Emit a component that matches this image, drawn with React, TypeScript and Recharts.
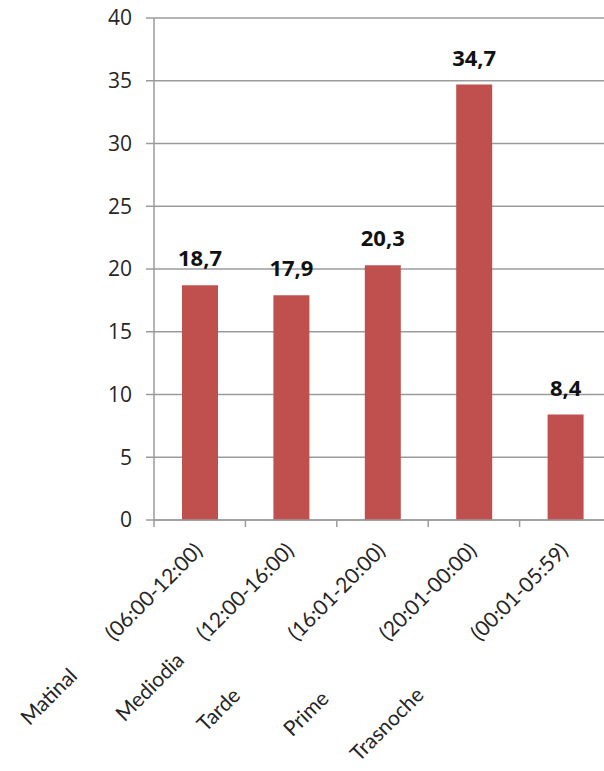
import React from 'react';
import { BarChart, Bar, XAxis, YAxis, CartesianGrid, LabelList } from 'recharts';

const names = ['Matinal', 'Mediodia', 'Tarde', 'Prime', 'Trasnoche'];
const timeRanges = ['(06:00-12:00)', '(12:00-16:00)', '(16:01-20:00)', '(20:01-00:00)', '(00:01-05:59)'];
const shares = [18.7, 17.9, 20.3, 34.7, 8.4];
const yTicks = [0, 5, 10, 15, 20, 25, 30, 35, 40];

// how far back along the slanted label the name ends (px, rotated frame)
const nameOffsets = [177, 155, 205, 209, 204];

const W = 620;
const H = 771;
const MARGIN = { top: 18, right: 9, left: 0, bottom: 0 };
const Y_AXIS_W = 154;
const BAND = (W - MARGIN.left - MARGIN.right - Y_AXIS_W) / names.length;

const GRID = '#9b9b9b';
const TEXT = '#262626';

const data = names.map((name, i) => ({ name, time: timeRanges[i], value: shares[i] }));

const CategoryTick = (props: any) => {
  const { x, y, payload } = props;
  const i = timeRanges.indexOf(payload.value);
  const left = x - BAND / 2;
  return (
    <g>
      <line x1={left} x2={left} y1={y} y2={y + 7} stroke={GRID} strokeWidth={1.5} />
      <g transform={`translate(${x + 4},${y + 32}) rotate(-45)`}>
        <text x={0} y={0} textAnchor="end" fill={TEXT} fontSize={21} fontFamily="Lato">
          {timeRanges[i]}
        </text>
        <text x={-nameOffsets[i]} y={0} textAnchor="end" fill={TEXT} fontSize={21} fontFamily="Lato">
          {names[i]}
        </text>
      </g>
    </g>
  );
};

const App: React.FC = () => {
  return (
    <div
      style={{
        position: 'absolute',
        left: 0,
        top: 0,
        width: 604,
        height: 771,
        overflow: 'hidden',
        background: '#fff',
      }}
    >
      <BarChart width={W} height={H} data={data} margin={MARGIN}>
        <CartesianGrid vertical={false} stroke={GRID} strokeWidth={1.5} />
        <XAxis
          dataKey="time"
          height={251}
          interval={0}
          tickLine={false}
          tickSize={0}
          tickMargin={0}
          axisLine={{ stroke: GRID, strokeWidth: 1.5 }}
          tick={<CategoryTick />}
        />
        <YAxis
          width={Y_AXIS_W}
          domain={[0, 40]}
          ticks={yTicks}
          interval={0}
          tickSize={8}
          tickMargin={14}
          axisLine={{ stroke: GRID, strokeWidth: 1.5 }}
          tickLine={{ stroke: GRID, strokeWidth: 1.5 }}
          tick={{ fill: TEXT, fontSize: 21, fontFamily: 'Open Sans' }}
        />
        <Bar dataKey="value" fill="#C0504D" barSize={36} isAnimationActive={false}>
          <LabelList
            dataKey="value"
            position="top"
            offset={19}
            formatter={(v: any) => Number(v).toFixed(1).replace('.', ',')}
            fill="#111"
            fontSize={22}
            fontWeight={700}
            fontFamily="Open Sans"
          />
        </Bar>
      </BarChart>
    </div>
  );
};

export default App;
